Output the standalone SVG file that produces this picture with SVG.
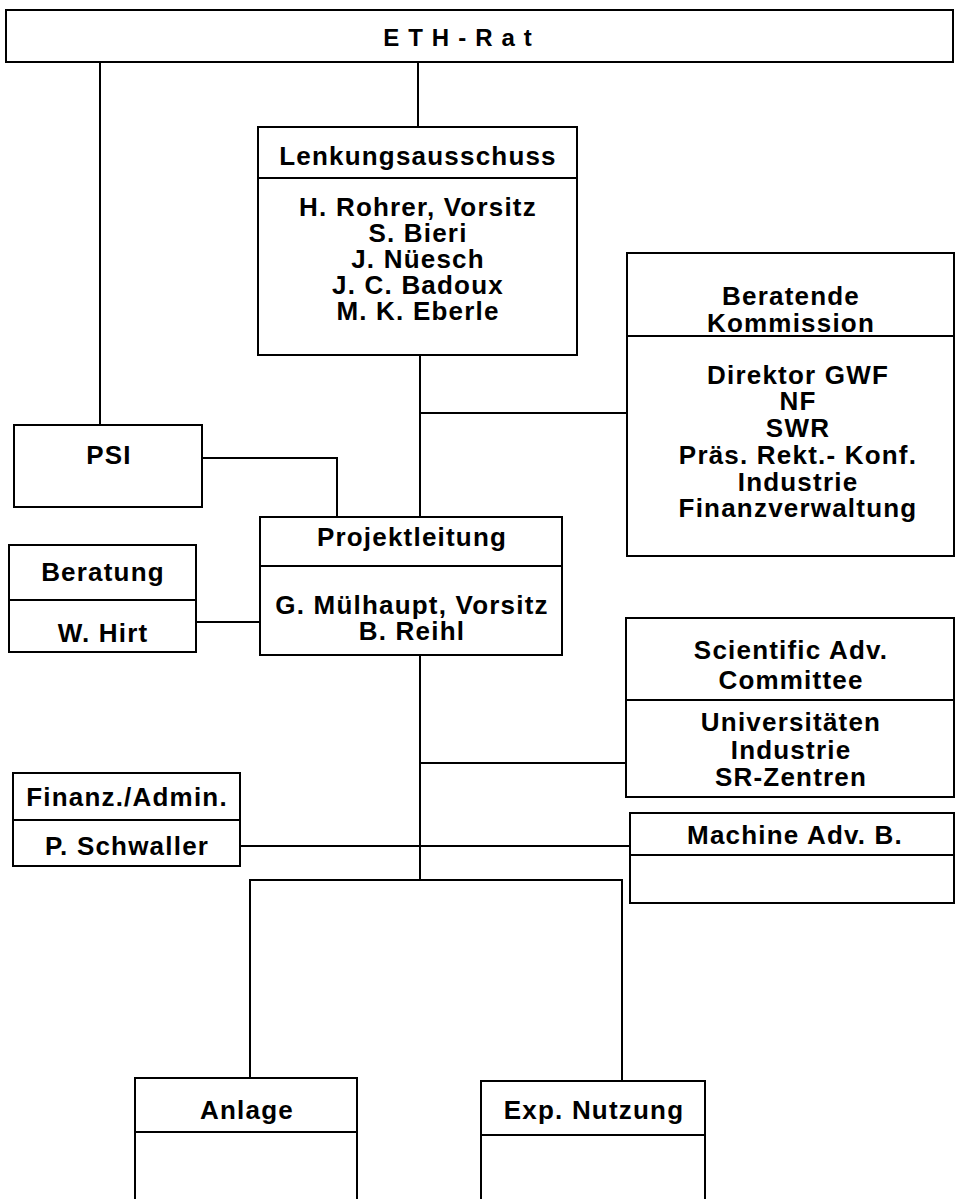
<svg xmlns="http://www.w3.org/2000/svg" width="956" height="1199" viewBox="0 0 956 1199">
<style>
rect.box{fill:#fff;stroke:#000;stroke-width:2}
line,path{stroke:#000;stroke-width:2;fill:none}
text{font-family:"Liberation Sans",Arial,sans-serif;font-weight:bold;font-size:26px;letter-spacing:1.2px;fill:#000;text-anchor:middle}
</style>
<rect width="956" height="1199" fill="#fff"/>
<g id="connectors">
<line x1="100" y1="62" x2="100" y2="425"/>
<line x1="418" y1="62" x2="418" y2="127"/>
<line x1="420" y1="355" x2="420" y2="880"/>
<line x1="420" y1="413" x2="627" y2="413"/>
<path d="M202 458 H337 V517"/>
<line x1="196" y1="622" x2="260" y2="622"/>
<line x1="420" y1="763" x2="626" y2="763"/>
<line x1="240" y1="846" x2="630" y2="846"/>
<path d="M250 1078 V880 H622 V1081"/>
</g>
<g id="eth-rat">
<rect class="box" x="6" y="10" width="947" height="52"/>
<text x="462" y="46" style="font-size:24px;letter-spacing:9px">ETH-Rat</text>
</g>
<g id="lenkungsausschuss">
<rect class="box" x="258" y="127" width="319" height="228"/>
<line x1="258" y1="178" x2="577" y2="178"/>
<text x="418" y="165">Lenkungsausschuss</text>
<text x="418" y="216">H. Rohrer, Vorsitz</text>
<text x="418" y="242">S. Bieri</text>
<text x="418" y="268">J. Nüesch</text>
<text x="418" y="294">J. C. Badoux</text>
<text x="418" y="320">M. K. Eberle</text>
</g>
<g id="beratende-kommission">
<rect class="box" x="627" y="253" width="327" height="303"/>
<line x1="627" y1="336" x2="954" y2="336"/>
<text x="791" y="305">Beratende</text>
<text x="791" y="332">Kommission</text>
<text x="798" y="384">Direktor GWF</text>
<text x="798" y="410">NF</text>
<text x="798" y="437">SWR</text>
<text x="798" y="464">Präs. Rekt.- Konf.</text>
<text x="798" y="491">Industrie</text>
<text x="798" y="517">Finanzverwaltung</text>
</g>
<g id="psi">
<rect class="box" x="14" y="425" width="188" height="82"/>
<text x="109" y="464">PSI</text>
</g>
<g id="projektleitung">
<rect class="box" x="260" y="517" width="302" height="138"/>
<line x1="260" y1="566" x2="562" y2="566"/>
<text x="412" y="546">Projektleitung</text>
<text x="412" y="614">G. Mülhaupt, Vorsitz</text>
<text x="412" y="640">B. Reihl</text>
</g>
<g id="beratung">
<rect class="box" x="9" y="545" width="187" height="107"/>
<line x1="9" y1="600" x2="196" y2="600"/>
<text x="103" y="581">Beratung</text>
<text x="103" y="642">W. Hirt</text>
</g>
<g id="scientific">
<rect class="box" x="626" y="618" width="328" height="179"/>
<line x1="626" y1="700" x2="954" y2="700"/>
<text x="791" y="659">Scientific Adv.</text>
<text x="791" y="689">Committee</text>
<text x="791" y="731">Universitäten</text>
<text x="791" y="759">Industrie</text>
<text x="791" y="786">SR-Zentren</text>
</g>
<g id="finanz-admin">
<rect class="box" x="13" y="773" width="227" height="93"/>
<line x1="13" y1="820" x2="240" y2="820"/>
<text x="127" y="806">Finanz./Admin.</text>
<text x="127" y="855">P. Schwaller</text>
</g>
<g id="machine">
<rect class="box" x="630" y="813" width="324" height="90"/>
<line x1="630" y1="855" x2="954" y2="855"/>
<text x="795" y="844">Machine Adv. B.</text>
</g>
<g id="anlage">
<rect class="box" x="135" y="1078" width="222" height="130"/>
<line x1="135" y1="1132" x2="357" y2="1132"/>
<text x="247" y="1119">Anlage</text>
</g>
<g id="exp-nutzung">
<rect class="box" x="481" y="1081" width="224" height="130"/>
<line x1="481" y1="1135" x2="705" y2="1135"/>
<text x="594" y="1119">Exp. Nutzung</text>
</g>
</svg>
